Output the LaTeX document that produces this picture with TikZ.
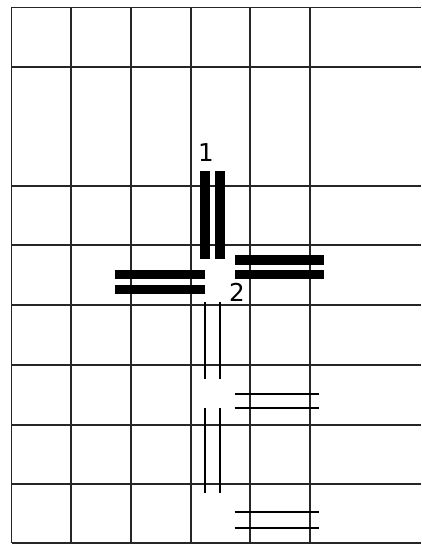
\documentclass[tikz,border=0pt]{standalone}
\usepackage{fontspec}
\setmainfont{DejaVu Sans}
\begin{document}
\begin{tikzpicture}[x=0.03cm,y=-0.03cm,
  gridline/.style={draw=black!85,line width=1.0pt},
  thickbar/.style={fill=black,draw=none},
  thinbar/.style={draw=black,line width=1.9pt,line cap=butt},
  lbl/.style={font=\fontsize{21}{23}\selectfont,inner sep=0pt}]
\useasboundingbox (0,0) rectangle (421,544);
% grid
\foreach \x in {11.5,71,131,191,250,310}
  \draw[gridline] (\x,7.5) -- (\x,543);
\foreach \y in {7.5,67,186,245,305,365,425,484,543}
  \draw[gridline] (11.5,\y) -- (421,\y);
% thick bars
\fill[thickbar] (200,170.7) rectangle (209.5,259.3);
\fill[thickbar] (214.7,170.7) rectangle (224.5,259.3);
\fill[thickbar] (115.3,270) rectangle (204.7,279.2);
\fill[thickbar] (115.3,284.8) rectangle (204.7,294.3);
\fill[thickbar] (234.7,255.3) rectangle (324.3,264.5);
\fill[thickbar] (234.7,270) rectangle (324.3,279.3);
% thin bars
\draw[thinbar] (204.7,302.3) -- (204.7,379);
\draw[thinbar] (219.7,302.3) -- (219.7,379);
\draw[thinbar] (234.7,394) -- (319.3,394);
\draw[thinbar] (234.7,408.3) -- (319.3,408.3);
\draw[thinbar] (204.7,408.3) -- (204.7,492.7);
\draw[thinbar] (219.7,408.3) -- (219.7,492.7);
\draw[thinbar] (234.7,512.3) -- (319.3,512.3);
\draw[thinbar] (234.7,527.7) -- (319.3,527.7);
% labels
\node[lbl] (one) at (206,152.5) {1};
\node[lbl] (two) at (237,292) {2};
\end{tikzpicture}
\end{document}
